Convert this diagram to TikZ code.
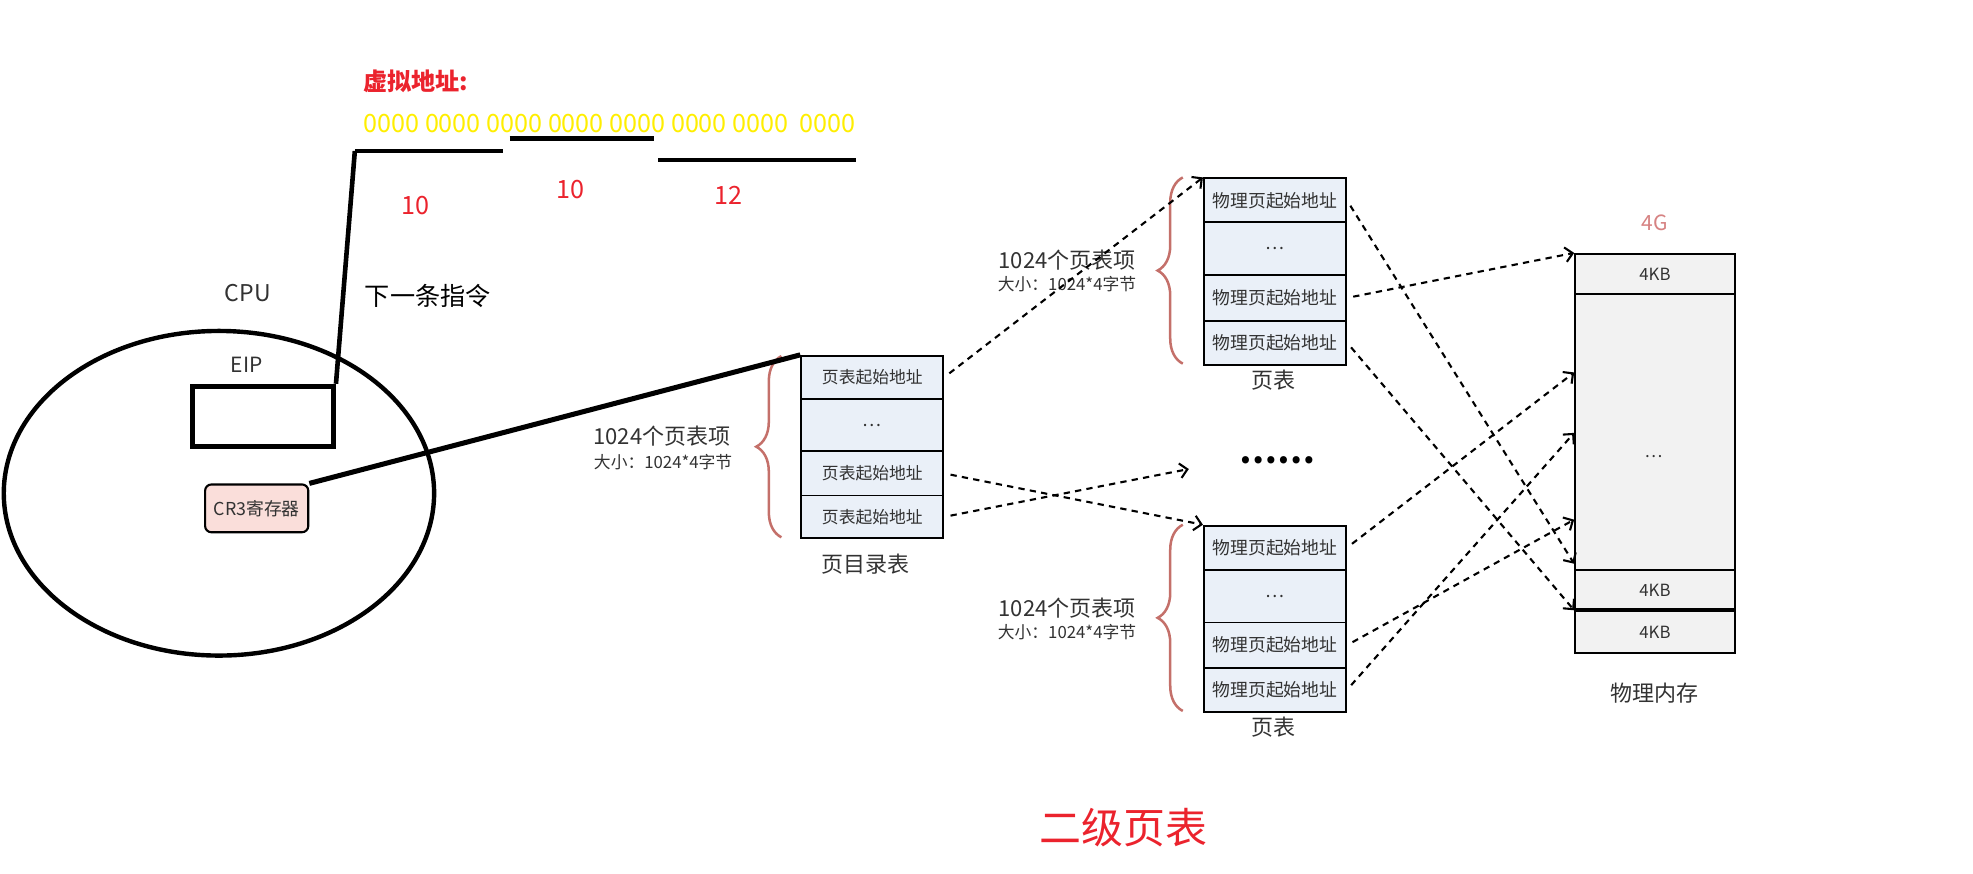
\documentclass[tikz,border=0pt]{standalone}
\usepackage{fontspec}
\setmainfont{Noto Sans CJK SC}
\usepackage{tikz}
\usetikzlibrary{decorations.pathreplacing, arrows.meta}

\definecolor{cellblue}{RGB}{234,240,248}
\definecolor{cellgray}{RGB}{242,242,242}
\definecolor{bracered}{RGB}{196,112,106}
\definecolor{markred}{RGB}{235,35,45}
\definecolor{addryellow}{RGB}{255,238,0}
\definecolor{crpink}{RGB}{250,222,218}
\definecolor{txtgray}{RGB}{50,50,50}
\definecolor{gpink}{RGB}{214,130,130}

\tikzset{
  cell/.style={draw, line width=0.9pt, fill=cellblue, minimum width=67.8pt, inner sep=0pt,
    anchor=north west, text=txtgray, font=\fontsize{8.5}{10}\selectfont},
  memcell/.style={cell, fill=cellgray, minimum width=76.2pt, font=\fontsize{8}{9}\selectfont},
  link/.style={-{Straight Barb[length=3.5pt,width=7pt]}, line width=1pt, dash pattern=on 3pt off 2.5pt, shorten <=3pt},
  bar/.style={line width=2.2pt},
  sizebrace/.style={decorate, decoration={brace, amplitude=12pt}, draw=bracered, line width=1.2pt},
  countlbl/.style={text=txtgray, font=\fontsize{10.5}{12}\selectfont},
  sizelbl/.style={text=txtgray, font=\fontsize{8}{9}\selectfont},
  redlbl/.style={text=markred, font=\fontsize{12}{14}\selectfont}
}

\begin{document}
\begin{tikzpicture}[x=0.6pt,y=-0.6pt]
    \useasboundingbox (0,0) rectangle (1568,694);

    \node[anchor=west, text=markred, font=\bfseries\fontsize{11.5}{13}\selectfont] (vaddr) at (283,65) {虚拟地址:};
    \node[anchor=west, text=addryellow, font=\fontsize{12}{14}\selectfont] (bits) at (283,98) {0000 0000 0000 0000 0000 0000 0000\ \ 0000};
    \coordinate (b1) at (282,120);
    \draw[bar] (b1) -- (400,120);
    \draw[bar] (405,110) -- (520,110);
    \draw[bar] (523,127) -- (680,127);
    \node[redlbl] (n1) at (330,163) {10};
    \node[redlbl] (n2) at (453,151) {10};
    \node[redlbl] (n3) at (579,155) {12};

    \draw[line width=2.1pt] (174,392) ellipse [x radius=171, y radius=129];
    \node[text=txtgray, font=\fontsize{11}{13}\selectfont] (cpu) at (197,233) {CPU};
    \node[font=\fontsize{12}{14}\selectfont] (next) at (340,235) {下一条指令};
    \node[text=txtgray, font=\fontsize{10}{12}\selectfont] (eiplbl) at (196,290) {EIP};
    \node[draw, line width=2.4pt, minimum width=67.2pt, minimum height=28.8pt] (eip) at (209,331) {};
    \node[draw, rounded corners=3pt, fill=crpink, line width=1pt, minimum width=49.2pt, minimum height=22.8pt,
      text=txtgray, font=\fontsize{8.5}{10}\selectfont] (cr3) at (204,404) {CR3寄存器};

    \node[cell, minimum height=20.4pt, font=\fontsize{8}{9}\selectfont] (pd1) at (636,282) {页表起始地址};
    \node[cell, minimum height=25.2pt] (pd2) at (636,316) {…};
    \node[cell, minimum height=21pt, font=\fontsize{8}{9}\selectfont] (pd3) at (636,358) {页表起始地址};
    \node[cell, minimum height=20.4pt, font=\fontsize{8}{9}\selectfont] (pd4) at (636,393) {页表起始地址};
    \node[countlbl] (pdname) at (688,448) {页目录表};
    \draw[sizebrace] (621,427) -- (621,283);
    \node[countlbl] (cntd) at (526,347) {1024个页表项};
    \node[sizelbl] (sized) at (527,367) {大小：1024*4字节};

    \draw[line width=2.2pt] (b1) -- (eip.north east);
    \draw[line width=2.4pt] (cr3.north east) -- (pd1.north west);

    \foreach \t/\y in {pa/141,pb/417}{
      \node[cell, minimum height=21pt] (\t1) at (956,\y) {物理页起始地址};
      \node[cell, minimum height=25.2pt] (\t2) at (956,\y+35) {…};
      \node[cell, minimum height=21.6pt] (\t3) at (956,\y+77) {物理页起始地址};
      \node[cell, minimum height=21pt] (\t4) at (956,\y+113) {物理页起始地址};
      \node[countlbl] (name\t) at (1012,\y+161) {页表};
      \draw[sizebrace] (940,\y+148) -- (940,\y);
      \node[countlbl] (cnt\t) at (848,\y+66) {1024个页表项};
      \node[sizelbl] (size\t) at (848,\y+85) {大小：1024*4字节};
    }
    \node[font=\bfseries\fontsize{16}{18}\selectfont] (more) at (1015,366) {……};

    \node[memcell, minimum height=19.2pt] (m1) at (1251,201) {4KB};
    \node[memcell, minimum height=131.4pt] (m2) at (1251,233) {};
    \node[memcell, minimum height=19.8pt] (m3) at (1251,452) {4KB};
    \node[memcell, minimum height=19.8pt] (m4) at (1251,485) {4KB};
    \draw[line width=1.8pt] (m4.north west) -- (m4.north east);
    \node[text=txtgray, font=\fontsize{8}{9}\selectfont] (mdots) at (1314,363) {…};
    \node[text=gpink, font=\fontsize{10}{12}\selectfont] (cap) at (1315,177) {4G};
    \node[countlbl] (memname) at (1315,551) {物理内存};
    \coordinate (slot1) at (1251,296);
    \coordinate (slot2) at (1251,344);
    \coordinate (slot3) at (1251,413);
    \coordinate (slot4) at (1251,448);

    \foreach \s/\e in {pd1/pa1.north west, pd3/pb1.north west, pa1/slot4, pa3/m1.north west,
      pa4/m4.north west, pb1/slot1, pb3/slot3, pb4/slot2}{
      \draw[link] (\s.east) -- (\e); }
    \draw[link, shorten >=21pt] (pd4.east) -- (more.west);

    \node[text=markred, font=\fontsize{20}{24}\selectfont] (title) at (893,658) {二级页表};
\end{tikzpicture}
\end{document}
